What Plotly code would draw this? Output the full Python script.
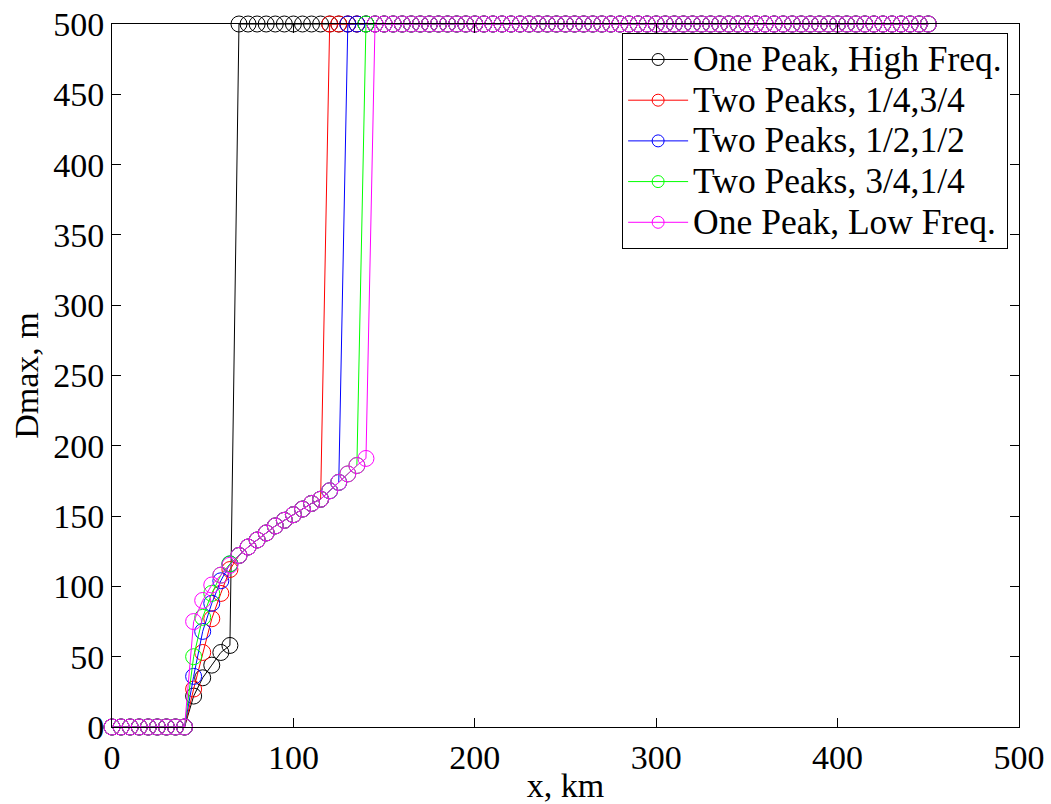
import plotly.graph_objects as go

x_km = [0, 5, 10, 15, 20, 25, 30, 35, 40, 45, 50, 55, 60, 65, 70, 75, 80, 85, 90, 95,
        100, 105, 110, 115, 120, 125, 130, 135, 140, 145, 150, 155, 160, 165, 170, 175,
        180, 185, 190, 195, 200, 205, 210, 215, 220, 225, 230, 235, 240, 245, 250, 255,
        260, 265, 270, 275, 280, 285, 290, 295, 300, 305, 310, 315, 320, 325, 330, 335,
        340, 345, 350, 355, 360, 365, 370, 375, 380, 385, 390, 395, 400, 405, 410, 415,
        420, 425, 430, 435, 440, 445, 450]

one_peak_high = [0, 0, 0, 0, 0, 0, 0, 0, 0,
                 22, 35, 44, 53, 58,
                 500, 500, 500, 500, 500, 500, 500, 500, 500, 500, 500, 500, 500, 500, 500, 500,
                 500, 500, 500, 500, 500, 500, 500, 500, 500, 500, 500, 500, 500, 500, 500, 500,
                 500, 500, 500, 500, 500, 500, 500, 500, 500, 500, 500, 500, 500, 500, 500, 500,
                 500, 500, 500, 500, 500, 500, 500, 500, 500, 500, 500, 500, 500, 500, 500, 500,
                 500, 500, 500, 500, 500, 500, 500, 500, 500, 500, 500, 500, 500]

two_peaks_14_34 = [0, 0, 0, 0, 0, 0, 0, 0, 0,
                   27, 53, 77, 95, 112, 122, 128, 133, 138, 143, 147, 151, 155, 159, 162,
                   500, 500, 500, 500, 500, 500, 500, 500, 500, 500, 500, 500, 500, 500, 500, 500,
                   500, 500, 500, 500, 500, 500, 500, 500, 500, 500, 500, 500, 500, 500, 500, 500,
                   500, 500, 500, 500, 500, 500, 500, 500, 500, 500, 500, 500, 500, 500, 500, 500,
                   500, 500, 500, 500, 500, 500, 500, 500, 500, 500, 500, 500, 500, 500, 500, 500,
                   500, 500, 500]

two_peaks_12_12 = [0, 0, 0, 0, 0, 0, 0, 0, 0,
                   36, 68, 88, 104, 116, 122, 128, 133, 138, 143, 147, 151, 155, 159, 162, 168, 174,
                   500, 500, 500, 500, 500, 500, 500, 500, 500, 500, 500, 500, 500, 500, 500, 500,
                   500, 500, 500, 500, 500, 500, 500, 500, 500, 500, 500, 500, 500, 500, 500, 500,
                   500, 500, 500, 500, 500, 500, 500, 500, 500, 500, 500, 500, 500, 500, 500, 500,
                   500, 500, 500, 500, 500, 500, 500, 500, 500, 500, 500, 500, 500, 500, 500, 500,
                   500]

two_peaks_34_14 = [0, 0, 0, 0, 0, 0, 0, 0, 0,
                   50, 78, 95, 108, 116, 122, 128, 133, 138, 143, 147, 151, 155, 159, 162, 168, 174,
                   180, 186,
                   500, 500, 500, 500, 500, 500, 500, 500, 500, 500, 500, 500, 500, 500, 500, 500,
                   500, 500, 500, 500, 500, 500, 500, 500, 500, 500, 500, 500, 500, 500, 500, 500,
                   500, 500, 500, 500, 500, 500, 500, 500, 500, 500, 500, 500, 500, 500, 500, 500,
                   500, 500, 500, 500, 500, 500, 500, 500, 500, 500, 500, 500, 500, 500, 500]

one_peak_low = [0, 0, 0, 0, 0, 0, 0, 0, 0,
                75, 90, 101, 108, 115, 122, 128, 133, 138, 143, 147, 151, 155, 159, 162, 168, 174,
                180, 186, 191,
                500, 500, 500, 500, 500, 500, 500, 500, 500, 500, 500, 500, 500, 500, 500, 500,
                500, 500, 500, 500, 500, 500, 500, 500, 500, 500, 500, 500, 500, 500, 500, 500,
                500, 500, 500, 500, 500, 500, 500, 500, 500, 500, 500, 500, 500, 500, 500, 500,
                500, 500, 500, 500, 500, 500, 500, 500, 500, 500, 500, 500, 500, 500]

series_names = ["One Peak, High Freq.", "Two Peaks, 1/4,3/4", "Two Peaks, 1/2,1/2",
                "Two Peaks, 3/4,1/4", "One Peak, Low Freq."]
series_values = [one_peak_high, two_peaks_14_34, two_peaks_12_12, two_peaks_34_14, one_peak_low]
series_colors = ["#000000", "#ff0000", "#0000ff", "#00ff00", "#ff00ff"]

x_tick_labels = ["0", "100", "200", "300", "400", "500"]
y_tick_labels = ["0", "50", "100", "150", "200", "250", "300", "350", "400", "450", "500"]

FS = 34
LEG_TEXT_FS = 35.5
LEG_FS = 29
font_family = "Liberation Serif, Times New Roman, serif"

fig = go.Figure()
for name, vals, col in zip(series_names, series_values, series_colors):
    fig.add_trace(go.Scatter(
        x=x_km, y=vals, name=name, mode="lines+markers", showlegend=False,
        line=dict(color=col, width=1),
        marker=dict(symbol="circle-open", size=16, color=col, line=dict(width=1, color=col)),
        cliponaxis=False,
    ))
# legend entries (smaller symbols and tighter rows, as in the reference legend)
for name, col in zip(series_names, series_colors):
    fig.add_trace(go.Scatter(
        x=[None], y=[None], name=f'<span style="font-size:{LEG_TEXT_FS}px">{name}</span>',
        mode="lines+markers", showlegend=True,
        line=dict(color=col, width=1),
        marker=dict(symbol="circle-open", size=12, color=col, line=dict(width=1, color=col)),
    ))

axis_common = dict(
    showgrid=False, zeroline=False, showline=True, linecolor="black", linewidth=1,
    mirror="ticks", ticks="inside", ticklen=9, tickcolor="black", tickwidth=1,
    tickfont=dict(family=font_family, size=FS, color="black"),
    automargin=False,
)

fig.update_layout(
    width=1051, height=804,
    margin=dict(l=112, r=32, t=24, b=77),
    paper_bgcolor="white", plot_bgcolor="white",
    font=dict(family=font_family, size=FS, color="black"),
    xaxis=dict(range=[0, 500], tickvals=[int(v) for v in x_tick_labels], ticktext=x_tick_labels,
               title=dict(text="x, km", font=dict(family=font_family, size=FS), standoff=0),
               **axis_common),
    yaxis=dict(range=[0, 500], tickvals=[int(v) for v in y_tick_labels], ticktext=y_tick_labels,
               title=dict(text="Dmax, m", font=dict(family=font_family, size=FS), standoff=4),
               **axis_common),
    legend=dict(x=0.988, y=0.987, xanchor="right", yanchor="top",
                bgcolor="white", bordercolor="black", borderwidth=1,
                font=dict(family=font_family, size=LEG_FS, color="black"),
                itemwidth=60, tracegroupgap=0),
    showlegend=True,
)

fig.write_html("out.html")
